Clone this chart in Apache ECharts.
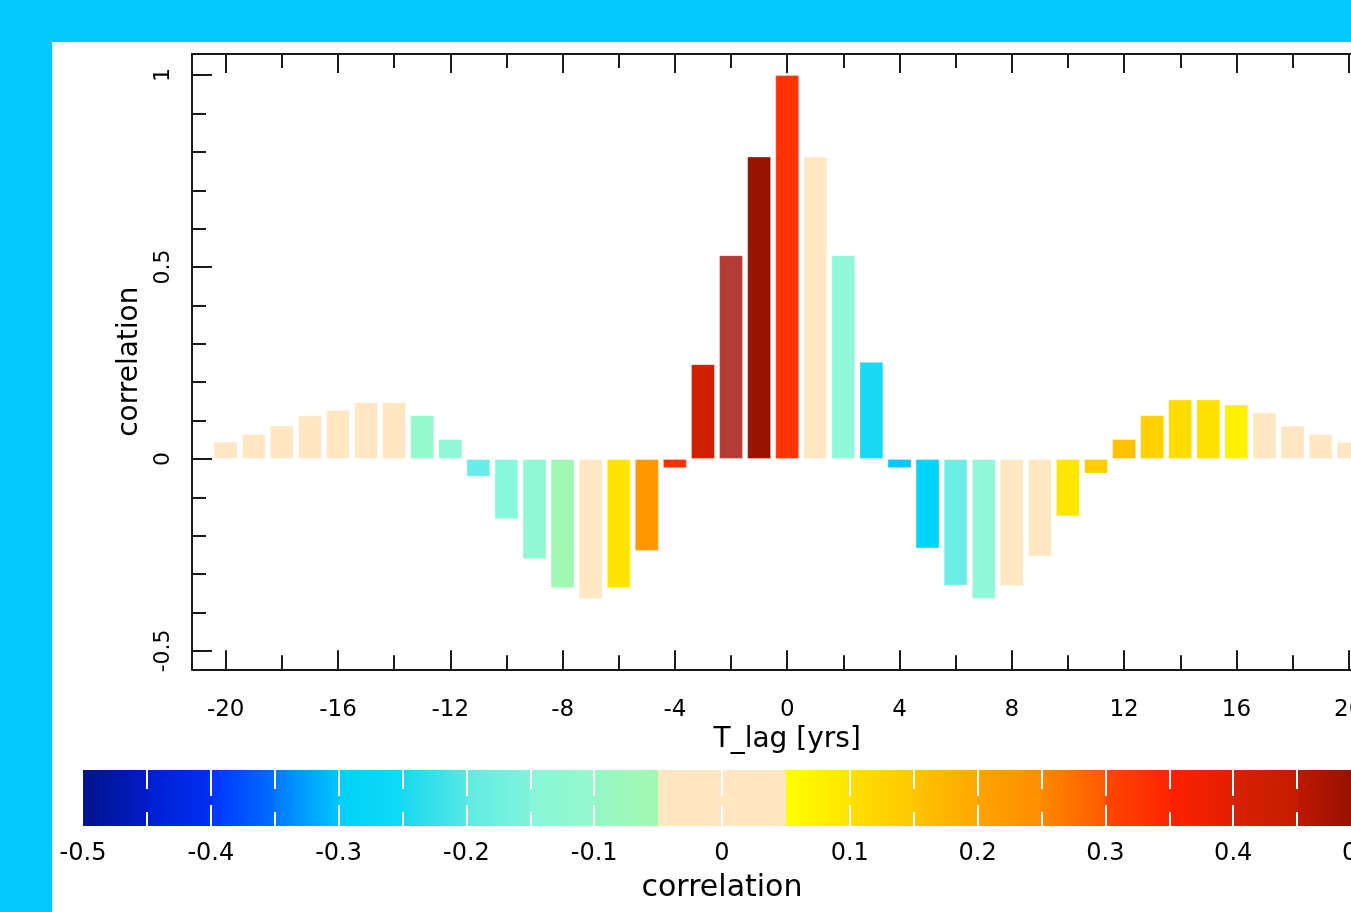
<!DOCTYPE html>
<html>
<head>
<meta charset="utf-8">
<script src="https://cdn.jsdelivr.net/npm/echarts@6/dist/echarts.min.js"></script>
<style>
html,body{margin:0;padding:0;overflow:hidden;}
#wrap{position:relative;width:1351px;height:912px;background:#02C8FD;}
#panel{position:absolute;left:52px;top:42px;right:0;bottom:0;background:#fff;}
#chart{position:absolute;left:0;top:0;width:1351px;height:912px;}
</style>
</head>
<body>
<div id="wrap"><div id="panel"></div><div id="chart"></div></div>
<script>
// ---- data ----
const lags = [-20,-19,-18,-17,-16,-15,-14,-13,-12,-11,-10,-9,-8,-7,-6,-5,-4,-3,-2,-1,0,1,2,3,4,5,6,7,8,9,10,11,12,13,14,15,16,17,18,19,20];
const corr = [0.045,0.065,0.087,0.114,0.128,0.148,0.148,0.114,0.052,-0.046,-0.157,-0.261,-0.337,-0.365,-0.337,-0.240,-0.024,0.247,0.531,0.788,1.0,0.788,0.531,0.253,-0.024,-0.233,-0.330,-0.365,-0.331,-0.254,-0.150,-0.038,0.052,0.114,0.155,0.155,0.142,0.122,0.087,0.065,0.044];
const barColors = ['#FFE7C4','#FFE7C4','#FFE7C4','#FFE7C4','#FFE7C4','#FFE7C4','#FFE7C4','#94FACC','#90F8D6','#68EEE6','#88F8DC','#90F8D4','#A0F8B4','#FFE7C4','#FFE400','#FF9800','#FF3000','#D02000','#B43C38','#981400','#FF3300','#FFE7C4','#90F8D8','#18D8F4','#00C8FF','#00D4F8','#6CEEE4','#90F8D8','#FFE7C4','#FFE7C4','#FFE600','#FFCC00','#FFC000','#FFD000','#FFDC00','#FFE000','#FFF000','#FFE7C4','#FFE7C4','#FFE7C4','#FFE7C4'];
const xMajorTicks = [-20,-16,-12,-8,-4,0,4,8,12,16,20];
const xMinorTicks = [-18,-14,-10,-6,-2,2,6,10,14,18];
const yMajorTicks = [-0.5,0,0.5,1];
const yMinorTicks = [-0.4,-0.3,-0.2,-0.1,0.1,0.2,0.3,0.4,0.6,0.7,0.8,0.9];
// colour bar
const cbStops = [-0.5,-0.45,-0.4,-0.35,-0.3,-0.25,-0.2,-0.15,-0.1,-0.05,0,0.05,0.1,0.15,0.2,0.25,0.3,0.35,0.4,0.45,0.5];
const cbLeft  = ['#00138C','#001ED0','#0034FF','#0078FF','#00D0FA','#18D8F0','#60EAE2','#88F6D8','#94F8C4','#FFE7C4','#FFE7C4','#FFFF00','#FFE000','#FFC400','#FFA400','#FF8800','#FF4800','#FF2000','#D82000','#C01800'];
const cbRight = ['#001CC8','#0030F0','#0070FF','#00C8FF','#10DCF4','#58E8E4','#80F4DA','#94F8CC','#A4F8B0','#FFE7C4','#FFE7C4','#FFE400','#FFC800','#FFA800','#FF8C00','#FF5800','#FF2400','#E02000','#C41C00','#901000'];
const cbMajorTicks = [-0.4,-0.3,-0.2,-0.1,0,0.1,0.2,0.3,0.4];
const cbMinorTicks = [-0.45,-0.35,-0.25,-0.15,0.15,0.25,0.35,0.45];
const cbLabels = [-0.5,-0.4,-0.3,-0.2,-0.1,0,0.1,0.2,0.3,0.4,0.5];

const XMIN = -21.2, XMAX = 21.2, YMIN = -0.548, YMAX = 1.055;
const FONT = 'DejaVu Sans';
const AX = '#1a1a1a';

const barData = lags.map((l, i) => ({value: [l, corr[i]], itemStyle: {color: barColors[i]}}));
const cbData = cbStops.slice(0, -1).map((s, i) => [s, cbStops[i + 1]]);
const fmt = v => String(Math.round(v * 100) / 100);

function xAx(grid, pos, ticks, len, opts) {
  return Object.assign({
    gridIndex: grid, type: 'value', position: pos, min: grid === 0 ? XMIN : -0.5, max: grid === 0 ? XMAX : 0.5,
    axisLine: {show: false, onZero: false},
    axisTick: {show: true, inside: true, length: len, customValues: ticks, lineStyle: {color: AX, width: 2}},
    axisLabel: {show: false},
    splitLine: {show: false}
  }, opts || {});
}

const chart = echarts.init(document.getElementById('chart'), null, {renderer: 'canvas'});
chart.setOption({
  backgroundColor: 'transparent',
  animation: false,
  grid: [
    {left: 192, top: 54, width: 1190.4, height: 615.3, outerBoundsMode: 'none', containLabel: false},
    {left: 83, top: 770, width: 1278, height: 56, outerBoundsMode: 'none', containLabel: false}
  ],
  xAxis: [
    xAx(0, 'bottom', xMajorTicks, 19, {
      axisLine: {show: true, onZero: false, lineStyle: {color: AX, width: 2}},
      axisLabel: {show: true, customValues: xMajorTicks, formatter: fmt, fontFamily: FONT, fontSize: 23, color: '#000', margin: 29},
      name: 'T_lag [yrs]', nameLocation: 'middle', nameGap: 54,
      nameTextStyle: {fontFamily: FONT, fontSize: 28, color: '#000'}
    }),
    xAx(0, 'bottom', xMinorTicks, 14),
    xAx(0, 'top', xMajorTicks, 19, {axisLine: {show: true, onZero: false, lineStyle: {color: AX, width: 2}}}),
    xAx(0, 'top', xMinorTicks, 14),
    xAx(1, 'bottom', cbMajorTicks, 21, {
      z: 10,
      axisTick: {show: true, inside: true, length: 21, customValues: cbMajorTicks, lineStyle: {color: '#fff', width: 2}},
      axisLabel: {show: true, customValues: cbLabels, formatter: fmt, fontFamily: FONT, fontSize: 24, color: '#000', margin: 16},
      name: 'correlation', nameLocation: 'middle', nameGap: 47,
      nameTextStyle: {fontFamily: FONT, fontSize: 30, color: '#000'}
    }),
    xAx(1, 'bottom', cbMinorTicks, 14, {z: 10, axisTick: {show: true, inside: true, length: 14, customValues: cbMinorTicks, lineStyle: {color: '#fff', width: 2}}}),
    xAx(1, 'top', cbMajorTicks, 26, {z: 10, axisTick: {show: true, inside: true, length: 26, customValues: cbMajorTicks, lineStyle: {color: '#fff', width: 2}}}),
    xAx(1, 'top', cbMinorTicks, 19, {z: 10, axisTick: {show: true, inside: true, length: 19, customValues: cbMinorTicks, lineStyle: {color: '#fff', width: 2}}})
  ],
  yAxis: [
    {
      gridIndex: 0, type: 'value', position: 'left', min: YMIN, max: YMAX,
      axisLine: {show: true, onZero: false, lineStyle: {color: AX, width: 2}},
      axisTick: {show: true, inside: true, length: 20, customValues: yMajorTicks, lineStyle: {color: AX, width: 2}},
      axisLabel: {show: true, customValues: yMajorTicks, formatter: fmt, rotate: 90, fontFamily: FONT, fontSize: 22, color: '#000', margin: 18},
      splitLine: {show: false},
      name: 'correlation', nameLocation: 'middle', nameGap: 31,
      nameTextStyle: {fontFamily: FONT, fontSize: 28, color: '#000'}
    },
    {
      gridIndex: 0, type: 'value', position: 'left', min: YMIN, max: YMAX,
      axisLine: {show: false, onZero: false},
      axisTick: {show: true, inside: true, length: 14, customValues: yMinorTicks, lineStyle: {color: AX, width: 2}},
      axisLabel: {show: false}, splitLine: {show: false}
    },
    {gridIndex: 1, type: 'value', min: 0, max: 1, show: false}
  ],
  series: [
    {
      type: 'bar', xAxisIndex: 0, yAxisIndex: 0, barWidth: 24,
      data: barData,
      itemStyle: {borderColor: 'rgba(255,255,255,0.35)', borderWidth: 1}
    },
    {
      type: 'custom', xAxisIndex: 4, yAxisIndex: 2,
      data: cbData,
      encode: {x: [0, 1]},
      renderItem: function (params, api) {
        const i = params.dataIndex;
        const p0 = api.coord([api.value(0), 1]);
        const p1 = api.coord([api.value(1), 0]);
        return {
          type: 'rect',
          shape: {x: p0[0], y: p0[1], width: p1[0] - p0[0] + 0.6, height: p1[1] - p0[1]},
          style: {fill: new echarts.graphic.LinearGradient(0, 0, 1, 0, [{offset: 0, color: cbLeft[i]}, {offset: 1, color: cbRight[i]}])}
        };
      }
    }
  ]
});
</script>
</body>
</html>
